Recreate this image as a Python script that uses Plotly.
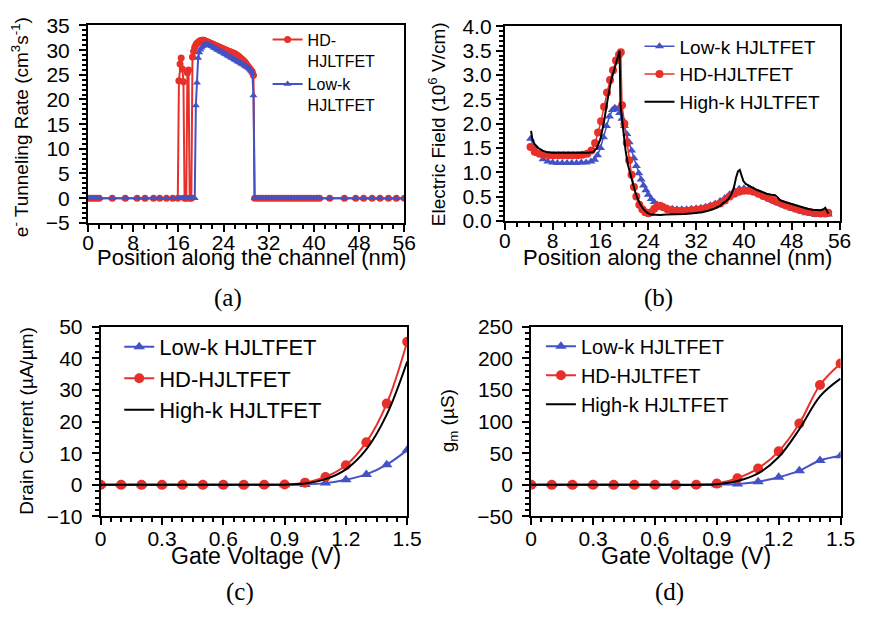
import plotly.graph_objects as go

RED = "#E8302A"
BLUE = "#4352C4"
BLACK = "#000000"
SANS = "Arial, Liberation Sans, sans-serif"
SERIF = "Times New Roman, Liberation Serif, serif"

# ---------------- (a) electron tunnelling rate along the channel ----------------
pos_a = [0.0, 0.4, 0.8, 1.2, 1.6, 2.0, 4.3, 6.6, 8.7, 10.1, 11.6, 12.7, 13.9, 15.0, 15.9,
         16.1, 16.3, 16.5, 16.7, 16.9, 17.1, 17.4, 17.6, 17.8, 18.0, 18.3, 18.5, 18.7, 18.9,
         19.1, 19.3, 19.5, 19.7, 19.9, 20.1, 20.3, 20.5, 20.7, 20.9, 21.1, 21.3, 21.5, 21.7,
         21.9, 22.1, 22.3, 22.5, 22.7, 22.9, 23.1, 23.3, 23.5, 23.7, 23.9, 24.1, 24.3, 24.5,
         24.7, 24.9, 25.1, 25.3, 25.5, 25.7, 25.9, 26.1, 26.3, 26.5, 26.7, 26.9, 27.1, 27.3,
         27.5, 27.7, 27.9, 28.1, 28.3, 28.5, 28.7, 28.9, 29.1,
         29.3, 29.5,
         30.0, 30.5, 31.0, 31.5, 32.0, 32.5, 33.0, 33.5, 34.0, 34.5, 35.0, 35.5, 36.0, 36.5,
         37.0, 37.5, 38.0, 38.5, 39.0, 39.5, 40.0, 40.5, 41.0, 42.8, 45.4, 47.4, 48.8, 50.3,
         51.7, 53.2, 54.6, 56.0]
rate_hd = [0, 0, 0, 0, 0, 0, 0, 0, 0, 0, 0, 0, 0, 0, 0,
           23.8, 27.2, 28.4, 26.2, 23.6, 0, 0, 25.4, 26.0, 0, 0, 28.6, 29.8, 30.6,
           31.1, 31.4, 31.6, 31.8, 31.9, 32.0, 32.0, 32.0, 31.9, 31.8, 31.7, 31.6, 31.5, 31.4,
           31.3, 31.2, 31.1, 31.0, 30.9, 30.8, 30.7, 30.6, 30.5, 30.4, 30.3, 30.2, 30.1, 30.0,
           29.9, 29.8, 29.7, 29.6, 29.5, 29.4, 29.3, 29.2, 29.0, 28.9, 28.7, 28.5, 28.3, 28.1,
           27.9, 27.7, 27.4, 27.1, 26.8, 26.5, 26.2, 25.9, 25.6,
           24.9, 0,
           0, 0, 0, 0, 0, 0, 0, 0, 0, 0, 0, 0, 0, 0,
           0, 0, 0, 0, 0, 0, 0, 0, 0, 0, 0, 0, 0, 0,
           0, 0, 0, 0]
rate_lowk = [0, 0, 0, 0, 0, 0, 0, 0, 0, 0, 0, 0, 0, 0, 0,
             0, 0, 0, 0, 0, 0, 0, 0, 0, 0, 0, 0, 0, 0,
             18.8, 23.4, 28.4, 29.5, 30.1, 30.5, 30.8, 31.0, 31.1, 31.2, 31.2, 31.1, 31.0, 30.9,
             30.8, 30.7, 30.5, 30.4, 30.3, 30.1, 30.0, 29.9, 29.7, 29.6, 29.5, 29.3, 29.2, 29.1,
             28.9, 28.8, 28.7, 28.5, 28.4, 28.3, 28.1, 28.0, 27.9, 27.7, 27.6, 27.5, 27.3, 27.2,
             27.1, 26.9, 26.8, 26.6, 26.5, 26.3, 26.1, 25.8, 25.4,
             20.8, 0,
             0, 0, 0, 0, 0, 0, 0, 0, 0, 0, 0, 0, 0, 0,
             0, 0, 0, 0, 0, 0, 0, 0, 0, 0, 0, 0, 0, 0,
             0, 0, 0, 0]

# ---------------- (b) electric field along the channel ----------------
pos_b_lowk = [4.3, 4.9, 5.6, 6.4, 7.2, 8.0, 8.8, 9.6, 10.4, 11.2, 12.0, 12.8, 13.6, 14.4,
              15.0, 15.5, 16.0, 16.5, 17.0, 17.5, 18.0, 18.4, 18.8, 19.2, 19.6, 20.0, 20.4,
              20.8, 21.2, 21.6, 22.0, 22.4, 22.8, 23.2, 23.6, 24.0, 24.5, 25.0, 25.5, 26.0,
              26.6, 27.2, 28.0, 28.8, 29.6, 30.4, 31.2, 32.0, 32.8, 33.6, 34.4, 35.2, 36.0,
              36.8, 37.6, 38.4, 39.2, 40.0, 40.8, 41.6, 42.4, 43.2, 44.0, 44.8, 45.6, 46.4,
              47.2, 48.0, 48.8, 49.6, 50.4, 51.2, 52.0, 52.8, 53.6, 54.1]
field_lowk = [1.69, 1.52, 1.38, 1.27, 1.22, 1.20, 1.19, 1.19, 1.19, 1.19, 1.19, 1.20, 1.20, 1.22,
              1.26, 1.35, 1.50, 1.72, 1.95, 2.15, 2.28, 2.33, 2.30, 2.22, 2.10, 1.95, 1.79,
              1.62, 1.45, 1.29, 1.13, 0.98, 0.85, 0.73, 0.63, 0.54, 0.45, 0.39, 0.34, 0.31,
              0.28, 0.26, 0.25, 0.24, 0.24, 0.24, 0.25, 0.26, 0.27, 0.29, 0.32, 0.36, 0.41,
              0.47, 0.55, 0.62, 0.66, 0.67, 0.66, 0.63, 0.58, 0.52, 0.47, 0.42, 0.37, 0.33,
              0.29, 0.25, 0.22, 0.19, 0.16, 0.14, 0.12, 0.12, 0.12, 0.13]
pos_b_hd = [4.3, 5.0, 5.8, 6.6, 7.4, 8.2, 9.0, 9.8, 10.6, 11.4, 12.2, 13.0, 13.8, 14.5,
            15.1, 15.6, 16.1, 16.6, 17.1, 17.6, 18.1, 18.6, 19.1, 19.4, 19.6, 20.0, 20.4,
            20.8, 21.2, 21.6, 22.0, 22.5, 23.0, 23.5, 24.0, 24.5, 25.0, 25.5, 26.0, 26.5,
            27.2, 28.0, 28.8, 29.6, 30.4, 31.2, 32.0, 32.8, 33.6, 34.4, 35.2, 36.0, 36.8,
            37.6, 38.4, 39.2, 40.0, 40.8, 41.6, 42.4, 43.2, 44.0, 44.8, 45.6, 46.4, 47.2,
            48.0, 48.8, 49.6, 50.4, 51.2, 52.0, 52.8, 53.6, 54.1]
field_hd = [1.52, 1.42, 1.38, 1.36, 1.35, 1.35, 1.35, 1.35, 1.35, 1.35, 1.35, 1.36, 1.38, 1.45,
            1.60, 1.82, 2.05, 2.35, 2.64, 2.90, 3.10, 3.30, 3.42, 3.47, 2.38, 2.00, 1.60,
            1.25, 0.95, 0.70, 0.50, 0.33, 0.24, 0.18, 0.16, 0.18, 0.25, 0.30, 0.31, 0.28,
            0.24, 0.22, 0.21, 0.21, 0.21, 0.22, 0.23, 0.24, 0.26, 0.29, 0.32, 0.36, 0.42,
            0.50, 0.56, 0.60, 0.62, 0.62, 0.60, 0.56, 0.51, 0.47, 0.43, 0.39, 0.35, 0.31,
            0.28, 0.25, 0.22, 0.20, 0.18, 0.16, 0.15, 0.15, 0.17]
pos_b_highk = [4.4, 4.6, 5.0, 5.6, 6.4, 7.2, 8.0, 10.0, 12.0, 14.0, 14.8, 15.4, 16.0, 16.6,
               17.2, 17.8, 18.4, 18.9, 19.2, 19.35, 19.8, 20.2, 20.6, 21.0, 21.4, 21.8, 22.2,
               22.7, 23.2, 23.8, 24.4, 25.2, 26.0, 27.0, 28.0, 29.0, 30.0, 31.0, 32.0, 33.0,
               34.0, 35.0, 36.0, 36.8, 37.4, 37.9, 38.3, 38.7, 39.0, 39.3, 39.6, 39.9, 40.3,
               40.8, 41.5, 42.3, 43.0, 43.8, 44.6, 45.2, 45.6, 46.0, 46.6, 47.4, 48.2, 49.0,
               49.8, 50.6, 51.4, 52.2, 52.8, 53.3, 53.6, 53.9, 54.1]
field_highk = [1.85, 1.68, 1.58, 1.50, 1.44, 1.41, 1.40, 1.40, 1.40, 1.40, 1.42, 1.50, 1.68, 2.05,
               2.50, 2.90, 3.15, 3.40, 3.50, 2.38, 1.85, 1.45, 1.15, 0.95, 0.78, 0.60, 0.46,
               0.33, 0.24, 0.17, 0.13, 0.12, 0.12, 0.13, 0.13, 0.14, 0.14, 0.15, 0.16, 0.18,
               0.21, 0.25, 0.31, 0.38, 0.45, 0.55, 0.68, 0.90, 1.02, 1.05, 0.95, 0.82, 0.76,
               0.72, 0.68, 0.63, 0.59, 0.56, 0.54, 0.53, 0.49, 0.43, 0.40, 0.37, 0.33, 0.30,
               0.27, 0.25, 0.23, 0.22, 0.22, 0.24, 0.27, 0.20, 0.15]

# ---------------- (c) drain current and (d) transconductance ----------------
gate_v = [0.0, 0.1, 0.2, 0.3, 0.4, 0.5, 0.6, 0.7, 0.8, 0.9, 1.0, 1.1, 1.2, 1.3, 1.4, 1.5]
id_lowk = [0, 0, 0, 0, 0, 0, 0, 0, 0, 0.02, 0.15, 0.55, 1.6, 3.3, 6.4, 11.0]
id_hd = [0, 0, 0, 0, 0, 0, 0, 0, 0.02, 0.1, 0.7, 2.5, 6.2, 13.5, 25.7, 45.3]
id_highk = [0, 0, 0, 0, 0, 0, 0, 0, 0, 0.05, 0.4, 1.8, 4.9, 11.2, 22.2, 39.0]
gm_lowk = [0, 0, 0, 0, 0, 0, 0, 0, 0, 0.3, 1.5, 5.0, 12.0, 22.5, 38.5, 46.0]
gm_hd = [0, 0, 0, 0, 0, 0, 0, 0, 0.3, 2.0, 10.5, 26.0, 53.0, 97.0, 158.0, 192.0]
gm_highk = [0, 0, 0, 0, 0, 0, 0, 0, 0, 1.0, 6.0, 18.0, 44.0, 88.0, 140.0, 168.0]

fig = go.Figure()

# (a)
fig.add_trace(go.Scatter(x=pos_a, y=rate_hd, name="HD-<br>HJLTFET", mode="lines+markers",
                         line=dict(color=RED, width=2),
                         marker=dict(symbol="circle", size=7, color=RED),
                         xaxis="x", yaxis="y", legend="legend"))
fig.add_trace(go.Scatter(x=pos_a, y=rate_lowk, name="Low-k<br>HJLTFET", mode="lines+markers",
                         line=dict(color=BLUE, width=2),
                         marker=dict(symbol="triangle-up", size=7, color=BLUE),
                         xaxis="x", yaxis="y", legend="legend"))

# (b)
fig.add_trace(go.Scatter(x=pos_b_lowk, y=field_lowk, name="Low-k HJLTFET", mode="lines+markers",
                         line=dict(color=BLUE, width=1.5),
                         marker=dict(symbol="triangle-up", size=8, color=BLUE),
                         xaxis="x2", yaxis="y2", legend="legend2"))
fig.add_trace(go.Scatter(x=pos_b_hd, y=field_hd, name="HD-HJLTFET", mode="lines+markers",
                         line=dict(color=RED, width=1.5),
                         marker=dict(symbol="circle", size=8, color=RED),
                         xaxis="x2", yaxis="y2", legend="legend2"))
fig.add_trace(go.Scatter(x=pos_b_highk, y=field_highk, name="High-k HJLTFET", mode="lines",
                         line=dict(color=BLACK, width=2),
                         xaxis="x2", yaxis="y2", legend="legend2"))

# (c)
fig.add_trace(go.Scatter(x=gate_v, y=id_lowk, name="Low-k HJLTFET", mode="lines+markers",
                         line=dict(color=BLUE, width=2, shape="spline"),
                         marker=dict(symbol="triangle-up", size=10, color=BLUE),
                         xaxis="x3", yaxis="y3", legend="legend3"))
fig.add_trace(go.Scatter(x=gate_v, y=id_hd, name="HD-HJLTFET", mode="lines+markers",
                         line=dict(color=RED, width=2, shape="spline"),
                         marker=dict(symbol="circle", size=10, color=RED),
                         xaxis="x3", yaxis="y3", legend="legend3"))
fig.add_trace(go.Scatter(x=gate_v, y=id_highk, name="High-k HJLTFET", mode="lines",
                         line=dict(color=BLACK, width=2, shape="spline"),
                         xaxis="x3", yaxis="y3", legend="legend3"))

# (d)
fig.add_trace(go.Scatter(x=gate_v, y=gm_lowk, name="Low-k HJLTFET", mode="lines+markers",
                         line=dict(color=BLUE, width=2, shape="spline"),
                         marker=dict(symbol="triangle-up", size=10, color=BLUE),
                         xaxis="x4", yaxis="y4", legend="legend4"))
fig.add_trace(go.Scatter(x=gate_v, y=gm_hd, name="HD-HJLTFET", mode="lines+markers",
                         line=dict(color=RED, width=2, shape="spline"),
                         marker=dict(symbol="circle", size=10, color=RED),
                         xaxis="x4", yaxis="y4", legend="legend4"))
fig.add_trace(go.Scatter(x=gate_v, y=gm_highk, name="High-k HJLTFET", mode="lines",
                         line=dict(color=BLACK, width=2, shape="spline"),
                         xaxis="x4", yaxis="y4", legend="legend4"))


def axis(domain, rng, dtick, minor_dtick, anchor, standoff, fmt=None):
    d = dict(domain=domain, range=rng, dtick=dtick, tick0=0, anchor=anchor,
             showline=True, linecolor=BLACK, linewidth=2, mirror=True,
             ticks="outside", ticklen=7, tickwidth=2, tickcolor=BLACK,
             minor=dict(dtick=minor_dtick, tick0=0, ticks="outside", ticklen=4,
                        tickwidth=1.5, tickcolor=BLACK, showgrid=False),
             showgrid=False, zeroline=False, ticklabelstandoff=standoff,
             tickfont=dict(family=SANS, size=21, color=BLACK))
    if fmt:
        d["tickformat"] = fmt
    return d


W, H = 880, 617


def px_x(p):
    return p / W


def px_y(p):
    return 1 - p / H


def legend_box(x, y, size, valign="middle"):
    return dict(x=px_x(x), y=px_y(y), xanchor="left", yanchor="top",
                bgcolor="rgba(0,0,0,0)", borderwidth=0, valign=valign,
                font=dict(family=SANS, size=size, color=BLACK), tracegroupgap=0)


fig.update_layout(
    width=W, height=H, margin=dict(l=0, r=0, t=0, b=0),
    paper_bgcolor="white", plot_bgcolor="white",
    xaxis=axis([px_x(84), px_x(408)], [0, 56], 8, 2, "y", -7),
    yaxis=axis([px_y(219), px_y(14)], [-5, 35], 5, 1, "x", 5),
    xaxis2=axis([px_x(511), px_x(854)], [0, 56], 8, 2, "y2", -7),
    yaxis2=axis([px_y(217), px_y(15)], [0, 4], 0.5, 0.1, "x2", 0, ".1f"),
    xaxis3=axis([px_x(97), px_x(411)], [0, 1.5], 0.3, 0.05, "y3", -5),
    yaxis3=axis([px_y(524), px_y(327)], [-10, 50], 10, 2, "x3", 5),
    xaxis4=axis([px_x(538), px_x(855)], [0, 1.5], 0.3, 0.05, "y4", -5),
    yaxis4=axis([px_y(524), px_y(327)], [-50, 250], 50, 10, "x4", 5),
    legend=legend_box(268, 11, 16, "top"),
    legend2=legend_box(649, 16, 19),
    legend3=legend_box(116, 326, 22),
    legend4=legend_box(548, 327, 20),
    showlegend=True,
)

ann = []
# axis titles
ann.append(dict(x=px_x(251), y=px_y(255), text="Position along the channel (nm)", showarrow=False,
                font=dict(family=SANS, size=22, color=BLACK)))
ann.append(dict(x=px_x(688), y=px_y(255), text="Position along the channel (nm)", showarrow=False,
                font=dict(family=SANS, size=22, color=BLACK)))
ann.append(dict(x=px_x(256), y=px_y(565), text="Gate Voltage (V)", showarrow=False,
                font=dict(family=SANS, size=23, color=BLACK)))
ann.append(dict(x=px_x(697), y=px_y(565), text="Gate Voltage (V)", showarrow=False,
                font=dict(family=SANS, size=23, color=BLACK)))
ann.append(dict(x=px_x(14), y=px_y(120), text="e<sup>-</sup> Tunneling Rate (cm<sup>3</sup>s<sup>-1</sup>)",
                textangle=-90, showarrow=False, font=dict(family=SANS, size=19, color=BLACK)))
ann.append(dict(x=px_x(441), y=px_y(116), text="Electric Field (10<sup>6</sup> V/cm)",
                textangle=-90, showarrow=False, font=dict(family=SANS, size=19, color=BLACK)))
ann.append(dict(x=px_x(21), y=px_y(424), text="Drain Current (µA/µm)",
                textangle=-90, showarrow=False, font=dict(family=SANS, size=19, color=BLACK)))
ann.append(dict(x=px_x(454), y=px_y(425), text="g<sub>m</sub> (µS)",
                textangle=-90, showarrow=False, font=dict(family=SANS, size=19, color=BLACK)))
# panel captions
for lbl, cx, cy in [("(a)", 227, 297), ("(b)", 668, 297), ("(c)", 240, 602), ("(d)", 680, 602)]:
    ann.append(dict(x=px_x(cx), y=px_y(cy), text=lbl, showarrow=False,
                    font=dict(family=SERIF, size=25, color=BLACK)))

for a in ann:
    a.update(xref="paper", yref="paper", xanchor="center", yanchor="middle")
fig.update_layout(annotations=ann)

fig.write_html("out.html")
